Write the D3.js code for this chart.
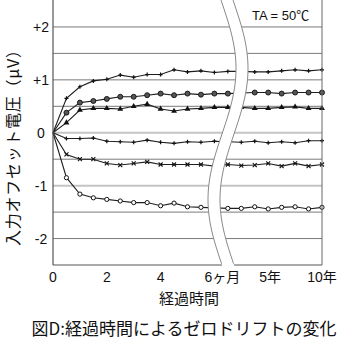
<!DOCTYPE html>
<html><head><meta charset="utf-8">
<script src="https://cdn.jsdelivr.net/npm/d3@7"></script>
<style>
html,body{margin:0;padding:0;background:#fff;}
svg{display:block;}
text{font-family:"Liberation Sans","Noto Sans CJK JP",Arial,sans-serif;fill:#111;}
.jp{font-family:"Noto Sans CJK JP","Liberation Sans",sans-serif;}
</style></head>
<body>
<svg id="c" width="340" height="345"></svg>
<script>
// slot index: 0..12 = 0..6 months (0.5 month steps), 16 = 5 years, 20 = 10 years
const slots = d3.range(0, 21);
const xTickSlots = [0, 4, 8, 12, 16, 20];
const xTickLabels = ["0", "2", "4", "6ヶ月", "5年", "10年"];
const yTicks = [2, 1, 0, -1, -2];
const yTickLabels = ["+2", "+1", "0", "-1", "-2"];
const gridValues = [2, 1.5, 1, 0.5, 0, -0.5, -1, -1.5, -2];
const lightGrid = [0, -1];

const seriesPlus = [0, 0.65, 0.87, 0.98, 1.01, 1.09, 1.05, 1.10, 1.10, 1.19, 1.15, 1.17, 1.14, 1.16, 1.16, 1.15, 1.15, 1.17, 1.19, 1.17, 1.19];
const seriesDot = [0, 0.38, 0.57, 0.60, 0.64, 0.68, 0.68, 0.71, 0.74, 0.71, 0.74, 0.72, 0.74, 0.74, 0.75, 0.76, 0.76, 0.74, 0.76, 0.76, 0.76];
const seriesTri = [0, 0.19, 0.43, 0.46, 0.46, 0.45, 0.50, 0.54, 0.45, 0.41, 0.45, 0.46, 0.48, 0.48, 0.48, 0.46, 0.46, 0.48, 0.49, 0.46, 0.46];
const seriesTick = [0, -0.11, -0.11, -0.10, -0.16, -0.17, -0.18, -0.14, -0.18, -0.20, -0.17, -0.18, -0.16, -0.17, -0.18, -0.16, -0.19, -0.17, -0.19, -0.15, -0.15];
const seriesCross = [0, -0.41, -0.50, -0.50, -0.58, -0.61, -0.58, -0.55, -0.60, -0.60, -0.60, -0.60, -0.63, -0.60, -0.62, -0.61, -0.58, -0.63, -0.58, -0.63, -0.60];
const seriesRing = [0, -0.85, -1.16, -1.23, -1.26, -1.29, -1.32, -1.32, -1.38, -1.33, -1.40, -1.41, -1.42, -1.43, -1.43, -1.40, -1.44, -1.41, -1.40, -1.44, -1.41];

const svg = d3.select("#c");
const L = 53, R = 322, T = 0.5, B = 265;
const x = d3.scaleLinear().domain([0, 20]).range([L, R]);
const y = d3.scaleLinear().domain([-2.5, 2.5]).range([B, T]);

// grid
svg.append("g").selectAll("line").data(gridValues).join("line")
  .attr("x1", L).attr("x2", R)
  .attr("y1", d => y(d)).attr("y2", d => y(d))
  .attr("stroke", d => lightGrid.includes(d) ? "#c4c4c4" : "#7a7a7a")
  .attr("stroke-width", d => lightGrid.includes(d) ? 2 : 1);

// series
const series = [
  {v: seriesPlus, m: "plus"},
  {v: seriesDot, m: "dot"},
  {v: seriesTri, m: "tri"},
  {v: seriesTick, m: "plus"},
  {v: seriesCross, m: "cross"},
  {v: seriesRing, m: "ring"}
];
const line = d3.line().x((d, i) => x(slots[i])).y(d => y(d));
const gS = svg.append("g");
series.forEach(s => {
  gS.append("path").attr("d", line(s.v)).attr("fill", "none")
    .attr("stroke", "#1e1e1e").attr("stroke-width", 1.1);
  const pts = s.v.map((d, i) => [x(slots[i]), y(d)]).slice(1);
  const g = gS.append("g");
  pts.forEach(([px, py]) => {
    if (s.m === "plus") {
      g.append("path").attr("d", `M${px-2},${py}H${px+2}M${px},${py-2}V${py+2}`)
        .attr("stroke", "#111").attr("stroke-width", 1.2);
    } else if (s.m === "dot") {
      g.append("circle").attr("cx", px).attr("cy", py).attr("r", 2.5)
        .attr("fill", "#555").attr("stroke", "#111").attr("stroke-width", 0.9);
    } else if (s.m === "tri") {
      g.append("path").attr("d", d3.symbol(d3.symbolTriangle, 15)())
        .attr("transform", `translate(${px},${py})`).attr("fill", "#111");
    } else if (s.m === "cross") {
      g.append("path").attr("d", `M${px-2},${py-2}L${px+2},${py+2}M${px-2},${py+2}L${px+2},${py-2}`)
        .attr("stroke", "#111").attr("stroke-width", 1.1);
    } else {
      g.append("circle").attr("cx", px).attr("cy", py).attr("r", 2.1)
        .attr("fill", "#fff").attr("stroke", "#111").attr("stroke-width", 1);
    }
  });
});

// axes frame
svg.append("line").attr("x1", L).attr("x2", L).attr("y1", 0).attr("y2", B).attr("stroke", "#555").attr("stroke-width", 1.2);
svg.append("line").attr("x1", L).attr("x2", R).attr("y1", B).attr("y2", B).attr("stroke", "#555").attr("stroke-width", 1.2);
svg.append("line").attr("x1", R).attr("x2", R).attr("y1", 0).attr("y2", B).attr("stroke", "#666").attr("stroke-width", 1);

// axis break band
const edge = d3.range(-2, 268, 2).map(yy => [222 + 14 * Math.sin(2 * Math.PI * (yy - 3) / 262), yy]);
const W = 12;
const left = edge.map(([ex, ey]) => [ex, ey]);
const right = edge.map(([ex, ey]) => [ex + W, ey]);
const ln = d3.line().curve(d3.curveBasis);
svg.append("path").attr("d", d3.line()(left.concat(right.slice().reverse())) + "Z")
  .attr("fill", "#fff");
svg.append("path").attr("d", ln(left.filter(p => p[1] >= 0 && p[1] <= B))).attr("fill", "none").attr("stroke", "#8a8a8a").attr("stroke-width", 1);
svg.append("path").attr("d", ln(right.filter(p => p[1] >= 0 && p[1] <= B))).attr("fill", "none").attr("stroke", "#8a8a8a").attr("stroke-width", 1);

// y tick labels
svg.append("g").selectAll("text").data(yTicks).join("text")
  .attr("x", 41).attr("y", d => y(d) + 5)
  .attr("text-anchor", "middle").attr("font-size", 14)
  .text((d, i) => yTickLabels[i]);

// x tick labels
const xOff = [0, 0, 0, 8, 2, 0];
svg.append("g").selectAll("text").data(xTickSlots).join("text")
  .attr("x", (d, i) => x(d) + xOff[i]).attr("y", 282)
  .attr("text-anchor", "middle").attr("font-size", 14)
  .text((d, i) => xTickLabels[i]);

// titles
svg.append("text").attr("class", "jp").attr("x", 189).attr("y", 304)
  .attr("text-anchor", "middle").attr("font-size", 15).text("経過時間");
svg.append("text").attr("class", "jp")
  .attr("transform", "translate(19,144) rotate(-90)")
  .attr("text-anchor", "middle").attr("font-size", 16)
  .attr("textLength", 204).attr("lengthAdjust", "spacing")
  .text("入力オフセット電圧（μV）");
svg.append("text").attr("class", "jp").attr("x", 184).attr("y", 335)
  .attr("text-anchor", "middle").attr("font-size", 17).text("図D:経過時間によるゼロドリフトの変化");
svg.append("text").attr("x", 252).attr("y", 20)
  .attr("font-size", 13).text("TA = 50℃");
</script>
</body></html>
